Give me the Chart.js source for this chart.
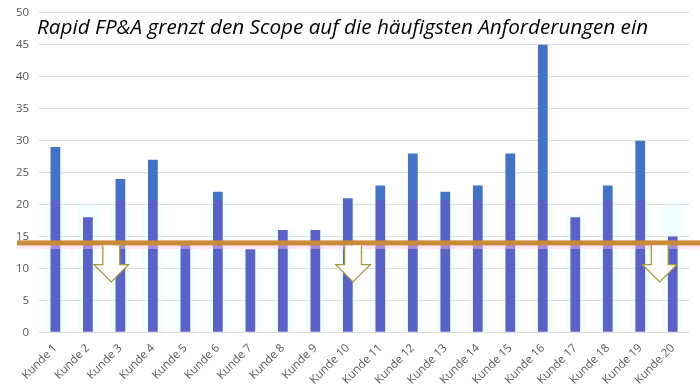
<!DOCTYPE html>
<html>
<head>
<meta charset="utf-8">
<script src="https://cdn.jsdelivr.net/npm/chart.js@4/dist/chart.umd.min.js"></script>
<style>
  html, body { margin: 0; padding: 0; background: #fff; }
  #wrap { width: 700px; height: 389px; position: relative; overflow: hidden; }
  #inner { position: absolute; left: 0; top: -4px; width: 700px; height: 393px; }
</style>
</head>
<body>
<div id="wrap"><div id="inner"><canvas id="chart"></canvas></div></div>
<script>
/* Kunden-Anforderungen — blue bars, threshold line, reduction arrows */

const TITLE = 'Rapid FP&A grenzt den Scope auf die häufigsten Anforderungen ein';
const KUNDEN = ['Kunde 1','Kunde 2','Kunde 3','Kunde 4','Kunde 5','Kunde 6','Kunde 7','Kunde 8','Kunde 9','Kunde 10',
                'Kunde 11','Kunde 12','Kunde 13','Kunde 14','Kunde 15','Kunde 16','Kunde 17','Kunde 18','Kunde 19','Kunde 20'];
const ANFORDERUNGEN = [29, 18, 24, 27, 14, 22, 13, 16, 16, 21, 23, 28, 22, 23, 28, 45, 18, 23, 30, 15];
// faint cyan shading behind the bars (image overlay in the original)
const SCHATTEN = [20.5, 20.5, 20.5, 20.5, 14, 20.5, 13, 16, 16, 20.5, 20.5, 20.5, 20.5, 20.5, 20.5, 20.5, 18.5, 20.5, 20.5, 20.5];
const Y_TICKS = [0, 5, 10, 15, 20, 25, 30, 35, 40, 45, 50];
const SCHWELLE = 14;          // orange threshold line
const TINT_BIS = 20.7;        // bars are tinted purple below this value
const PFEIL_X = [1.72, 9.16, 18.6];   // arrow centres (category index)
const PFEIL_SCHAFT_ENDE = 10.6;
const PFEIL_SPITZE = 7.9;

const overlay = {
  id: 'overlay',
  afterDatasetsDraw(chart) {
    const { ctx, scales: { x, y } } = chart;
    const yl = y.getPixelForValue(SCHWELLE);
    const catW = x.getPixelForValue(1) - x.getPixelForValue(0);
    ctx.save();
    // pink band under the line
    ctx.fillStyle = 'rgba(250,200,240,0.45)';
    ctx.fillRect(17, yl + 1, chart.width - 17, 5);
    // threshold line
    ctx.fillStyle = '#C98B38';
    ctx.fillRect(17, yl - 2.5, chart.width - 17, 5);
    // arrows
    const ys = y.getPixelForValue(PFEIL_SCHAFT_ENDE);
    const yt = y.getPixelForValue(PFEIL_SPITZE);
    PFEIL_X.forEach((v) => {
      const cx = x.getPixelForValue(0) + v * catW;
      const sw = catW * 0.26, hw = catW * 0.53;
      ctx.beginPath();
      ctx.moveTo(cx - sw, yl + 2.5);
      ctx.lineTo(cx - sw, ys);
      ctx.lineTo(cx - hw, ys);
      ctx.lineTo(cx, yt);
      ctx.lineTo(cx + hw, ys);
      ctx.lineTo(cx + sw, ys);
      ctx.lineTo(cx + sw, yl + 2.5);
      ctx.fillStyle = '#fff';
      ctx.fill();
      ctx.strokeStyle = '#A8963A';
      ctx.lineWidth = 1.3;
      ctx.stroke();
    });
    // title (canvas is shifted up by 4px)
    ctx.fillStyle = '#000';
    ctx.font = 'italic 20.7px "Open Sans", sans-serif';
    ctx.textBaseline = 'middle';
    ctx.fillText(TITLE, 37, 32);
    ctx.restore();
  }
};

const barColor = (c) => {
  const { chart } = c;
  const { ctx, chartArea, scales } = chart;
  if (!chartArea) return '#4472C4';
  const g = ctx.createLinearGradient(0, chartArea.top, 0, chartArea.bottom);
  const stop = (scales.y.getPixelForValue(TINT_BIS) - chartArea.top) / (chartArea.bottom - chartArea.top);
  g.addColorStop(0, '#4473C5');
  g.addColorStop(stop, '#4473C5');
  g.addColorStop(Math.min(stop + 0.001, 1), '#5B62C6');
  g.addColorStop(1, '#5B62C6');
  return g;
};

new Chart(document.getElementById('chart'), {
  type: 'bar',
  data: {
    labels: KUNDEN,
    datasets: [
      {
        label: 'Anforderungen',
        data: ANFORDERUNGEN,
        backgroundColor: barColor,
        barPercentage: 0.3,
        categoryPercentage: 1,
        grouped: false,
        order: 1,
      },
      {
        label: 'Schatten',
        data: SCHATTEN,
        backgroundColor: 'rgba(225,252,252,0.4)',
        barPercentage: 0.62,
        categoryPercentage: 1,
        grouped: false,
        order: 2,
      },
    ],
  },
  options: {
    responsive: true,
    maintainAspectRatio: false,
    animation: false,
    layout: { padding: { top: 0, right: 11, left: 6, bottom: 1 } },
    plugins: { legend: { display: false }, tooltip: { enabled: false } },
    scales: {
      x: {
        grid: { display: false },
        border: { display: false },
        ticks: {
          color: '#595959',
          font: { family: '"Open Sans", sans-serif', size: 11.5 },
          minRotation: 45, maxRotation: 45,
          padding: 1,
        },
      },
      y: {
        min: 0, max: 50,
        afterBuildTicks: (ax) => { ax.ticks = Y_TICKS.map((v) => ({ value: v })); },
        grid: { color: '#D9D9D9', lineWidth: 1, drawTicks: false },
        border: { display: false },
        ticks: {
          color: '#595959',
          font: { family: '"Open Sans", sans-serif', size: 11.5 },
          padding: 10,
        },
      },
    },
  },
  plugins: [overlay],
});
</script>
</body>
</html>
